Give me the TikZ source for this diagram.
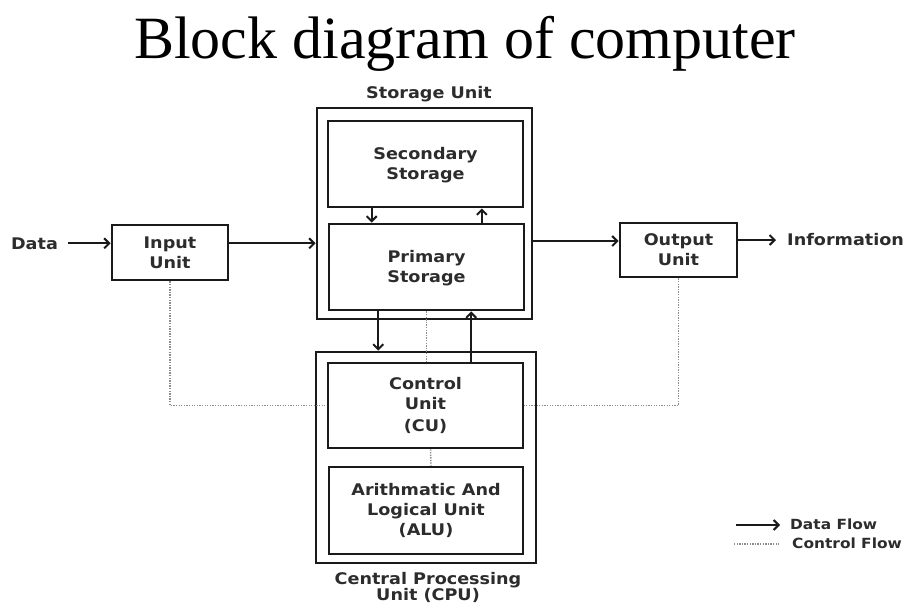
\documentclass[tikz,border=0pt]{standalone}
\usepackage{fontspec}
\setmainfont{Liberation Serif}
\newfontfamily\blockfont{DejaVu Sans}[FakeStretch=1.1]
\usepackage{xcolor}
\usetikzlibrary{arrows.meta, calc}
\definecolor{inkgray}{HTML}{2C2C2C}
\definecolor{linegray}{HTML}{1A1A1A}
\tikzset{
	unitbox/.style={draw=linegray, line width=2.8pt, inner sep=0pt, align=center,
		text=inkgray, font=\blockfont\bfseries\fontsize{16}{20}\selectfont},
	tag/.style={inner sep=0pt, align=center, text=inkgray,
		font=\blockfont\bfseries\fontsize{16}{18}\selectfont},
	keytag/.style={tag, anchor=base west, font=\blockfont\bfseries\fontsize{14}{16}\selectfont},
	flow/.style={draw=linegray, line width=1.6pt,
		-{Straight Barb[length=5pt,width=10pt,line width=2pt]}},
	ctrl/.style={draw=gray!90, line width=1.5pt, dash pattern=on 1.3pt off 1.3pt},
}

\begin{document}
\begin{tikzpicture}[x=1pt, y=-1pt]
	\useasboundingbox (0,0) rectangle (909,605);

	\node[anchor=base, font=\fontsize{60}{64}\selectfont] (title) at (465,58) {Block diagram of computer};

	% storage
	\node[unitbox, minimum width=215pt, minimum height=211pt] (stor) at (424.5,213.5) {};
	\node[unitbox, minimum width=195pt, minimum height=86pt] (sec) at (425.5,164) {\strut Secondary\\Storage};
	\node[unitbox, minimum width=195pt, minimum height=86pt] (prim) at (426.5,267) {\strut Primary\\Storage};
	\node[tag, anchor=base] (storlbl) at (429,98) {Storage Unit};

	% cpu
	\node[unitbox, minimum width=220pt, minimum height=211pt] (cpu) at (426,457.5) {};
	\node[unitbox, minimum width=195pt, minimum height=85pt] (cu) at (425.5,405.5) {Control\\Unit\\[2pt](CU)};
	\node[unitbox, minimum width=194pt, minimum height=87pt] (alu) at (426,510.5) {Arithmatic And\\Logical Unit\\(ALU)};
	\node[tag, anchor=base] (cpulbl) at (428,600) {Central Processing\\[-2pt]Unit (CPU)};

	% input / output
	\node[unitbox, minimum width=116pt, minimum height=55pt] (inp) at (170,252.5) {Input\\Unit};
	\node[unitbox, minimum width=117pt, minimum height=54pt] (outp) at (678.5,250) {Output\\Unit};
	\node[tag, anchor=base] (data) at (34.5,249) {Data};
	\node[tag, anchor=base west] (info) at (787,245) {Information};

	% data flow
	\draw[flow, shorten <=10pt] (data.east) -- (data -| inp.west);
	\draw[flow] (inp.east |- data) -- (stor.west |- data);
	\draw[flow] ($(stor.east |- info)+(0,2)$) -- ($(outp.west |- info)+(0,2)$);
	\draw[flow, shorten >=11pt] ($(outp.east |- info)+(0,1)$) -- ($(info.west)+(0,1)$);

	\coordinate (secdn) at ($(sec.south west)!0.228!(sec.south east)$);
	\coordinate (secup) at ($(sec.south west)!0.785!(sec.south east)$);
	\coordinate (primdn) at ($(prim.south west)!0.256!(prim.south east)$);
	\coordinate (cuup) at ($(cu.north west)!0.731!(cu.north east)$);
	\draw[flow] (secdn) -- (secdn |- prim.north);
	\draw[flow] (secup |- prim.north) -- (secup);
	\draw[flow] (primdn) -- (primdn |- cpu.north);
	\draw[flow] (cuup) -- (cuup |- prim.south);

	% control flow
	\draw[ctrl] (prim.south) -- (prim.south |- cu.north);
	\draw[ctrl] ($(cu.south)+(5,0)$) -- ($(alu.north)+(5,0)$);
	\draw[ctrl] (inp.south) |- (cu.west);
	\draw[ctrl] (outp.south) |- (cu.east);

	% legend
	\coordinate (keyA) at (736,525);
	\coordinate (keyB) at (780,525);
	\coordinate (keyC) at (734,544);
	\coordinate (keyD) at (779,544);
	\draw[flow] (keyA) -- (keyB);
	\draw[ctrl, line width=1.2pt] (keyC) -- (keyD);
	\node[keytag] (keydata) at (790,529) {Data Flow};
	\node[keytag] (keyctrl) at (792,548) {Control Flow};

\end{tikzpicture}
\end{document}
